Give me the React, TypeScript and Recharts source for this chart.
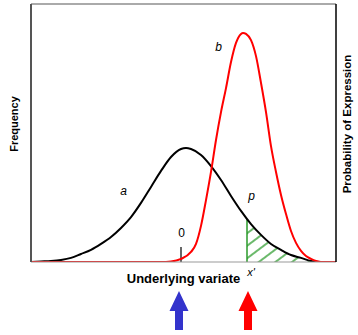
import React from 'react';
import { ComposedChart, Line, Area, XAxis, YAxis, ReferenceLine, ReferenceDot } from 'recharts';

// Curve a (black): underlying variate vs frequency
const curveAX = [-7.5, -7.0, -6.5, -6.0, -5.5, -5.0, -4.5, -4.0, -3.5, -3.0, -2.5, -2.0, -1.5, -1.0, -0.5, 0, 0.25, 0.5, 1.0, 1.5, 2.0, 2.5, 3.0, 3.5, 4.0, 4.5, 5.0, 5.5, 6.0, 6.5, 7.0, 7.75];
const curveAY = [0, 0.2, 0.4, 0.8, 1.6, 3.1, 4.7, 7.0, 9.7, 13.2, 17.4, 22.9, 29.1, 35.3, 40.7, 43.8, 44.2, 43.8, 41.5, 37.2, 31.8, 25.6, 19.8, 14.7, 10.5, 7.0, 4.7, 2.7, 1.6, 0.4, 0, 0];

// Curve b (red): probability of expression
const curveBX = [-7.5, -1.0, -0.5, 0, 0.5, 0.75, 1.0, 1.25, 1.5, 1.75, 2.0, 2.25, 2.5, 2.75, 3.0, 3.1, 3.25, 3.5, 3.75, 4.0, 4.25, 4.5, 4.75, 5.0, 5.25, 5.5, 5.75, 6.0, 6.25, 6.5, 6.75, 7.0, 7.75];
const curveBY = [0, 0, 0.2, 1.2, 3.9, 7.0, 14.0, 24.0, 34.9, 47.3, 58.1, 67.4, 77.5, 84.9, 88.4, 88.8, 88.4, 86.0, 79.8, 69.4, 58.1, 44.9, 34.9, 26.0, 18.6, 12.0, 7.4, 4.3, 2.3, 1.2, 0.4, 0, 0];

// Hatched tail p of curve a beyond x'
const hatchX = [3.3, 3.5, 4.0, 4.5, 5.0, 5.5, 6.0, 6.5, 7.0];
const hatchY = [16.7, 14.7, 10.5, 7.0, 4.7, 2.7, 1.6, 0.4, 0];

const xPrime = 3.3;
const xTicks = [0, 3.3];
const zeroTickTop = 5.8;

const labelA = { text: 'a', x: -2.875, y: 27.7 };
const labelB = { text: 'b', x: 1.875, y: 83.3 };
const labelP = { text: 'p', x: 3.525, y: 25.6 };
const labelZero = { text: '0', x: 0.025, y: 11.2 };

const dataA = curveAX.map((x, i) => ({ x, a: curveAY[i] }));
const dataB = curveBX.map((x, i) => ({ x, b: curveBY[i] }));
const dataH = hatchX.map((x, i) => ({ x, p: hatchY[i] }));

const FONT = '"Liberation Sans", Arial, sans-serif';

const arrow = (cx: number, top: number, fill: string) => {
  const pts = [
    [cx, top],
    [cx + 9.5, top + 20],
    [cx + 4, top + 20],
    [cx + 4, top + 39],
    [cx - 4, top + 39],
    [cx - 4, top + 20],
    [cx - 9.5, top + 20],
  ]
    .map((p) => p.join(','))
    .join(' ');
  return <polygon points={pts} fill={fill} />;
};

const renderTick = (props: any) => {
  const { x, y, payload } = props;
  if (payload.value === 0) {
    return <g>{arrow(x - 2, y + 29, '#3333cc')}</g>;
  }
  return (
    <g>
      <text x={x + 4} y={y + 14} fontFamily={FONT} fontSize={11} fontStyle="italic" textAnchor="middle" fill="#000">
        x'
      </text>
      {arrow(x + 1, y + 29, '#ff0000')}
    </g>
  );
};

const italicLabel = (lbl: { text: string }, italic: boolean) => (props: any) => {
  const { viewBox } = props;
  const cx = viewBox.x + viewBox.width / 2;
  const cy = viewBox.y + viewBox.height / 2;
  return (
    <text x={cx} y={cy + 4} fontFamily={FONT} fontSize={12} fontStyle={italic ? 'italic' : 'normal'} textAnchor="middle" fill="#000">
      {lbl.text}
    </text>
  );
};

export default function App() {
  return (
    <div style={{ position: 'absolute', left: 0, top: 0, background: '#fff' }}>
      <ComposedChart width={358} height={335} margin={{ top: 0, right: 0, bottom: 0, left: 0 }}>
        <defs>
          <pattern id="hatch" patternUnits="userSpaceOnUse" width="10" height="10" patternTransform="rotate(-37)">
            <line x1="0" y1="5" x2="10" y2="5" stroke="#2a9a2a" strokeWidth={1.4} />
          </pattern>
        </defs>
        <XAxis
          dataKey="x"
          type="number"
          domain={[-7.5, 7.75]}
          allowDataOverflow
          ticks={xTicks}
          tick={renderTick}
          tickLine={false}
          tickSize={0}
          tickMargin={0}
          height={73}
          stroke="#999"
          interval={0}
          label={(props: any) => {
            const { viewBox } = props;
            return (
              <text x={viewBox.x + viewBox.width / 2} y={283} fontFamily={FONT} fontSize={13} fontWeight="bold" textAnchor="middle" fill="#000">
                Underlying variate
              </text>
            );
          }}
        />
        <XAxis xAxisId="top" orientation="top" type="number" domain={[-7.5, 7.75]} height={4} tick={false} tickLine={false} stroke="#aaa" strokeWidth={2} />
        <YAxis
          type="number"
          domain={[0, 100]}
          allowDataOverflow
          width={31}
          tick={false}
          tickLine={false}
          stroke="#555"
          strokeWidth={2}
          label={() => (
            <text x={18} y={124} transform="rotate(-90, 18, 124)" fontFamily={FONT} fontSize={11} fontWeight="bold" textAnchor="middle" fill="#000">
              Frequency
            </text>
          )}
        />
        <YAxis
          yAxisId="right"
          orientation="right"
          type="number"
          domain={[0, 100]}
          width={22}
          tick={false}
          tickLine={false}
          stroke="#000"
          strokeWidth={1.5}
          label={() => (
            <text x={351} y={124} transform="rotate(-90, 351, 124)" fontFamily={FONT} fontSize={11.5} fontWeight="bold" textAnchor="middle" fill="#000">
              Probability of Expression
            </text>
          )}
        />
        <Area data={dataH} dataKey="p" type="monotone" stroke="none" fill="url(#hatch)" fillOpacity={1} isAnimationActive={false} />
        <ReferenceLine segment={[{ x: xPrime, y: 0 }, { x: xPrime, y: hatchY[0] }]} stroke="#2a9a2a" strokeWidth={1.5} />
        <ReferenceLine segment={[{ x: 0, y: 0 }, { x: 0, y: zeroTickTop }]} stroke="#000" strokeWidth={1.2} />
        <Line data={dataA} dataKey="a" type="monotone" stroke="#000" strokeWidth={2} dot={false} isAnimationActive={false} />
        <Line data={dataB} dataKey="b" type="monotone" stroke="#ff0000" strokeWidth={2} dot={false} isAnimationActive={false} />
        <ReferenceDot x={labelA.x} y={labelA.y} r={0} stroke="none" fill="none" label={italicLabel(labelA, true)} />
        <ReferenceDot x={labelB.x} y={labelB.y} r={0} stroke="none" fill="none" label={italicLabel(labelB, true)} />
        <ReferenceDot x={labelP.x} y={labelP.y} r={0} stroke="none" fill="none" label={italicLabel(labelP, true)} />
        <ReferenceDot x={labelZero.x} y={labelZero.y} r={0} stroke="none" fill="none" label={italicLabel(labelZero, false)} />
      </ComposedChart>
    </div>
  );
}
